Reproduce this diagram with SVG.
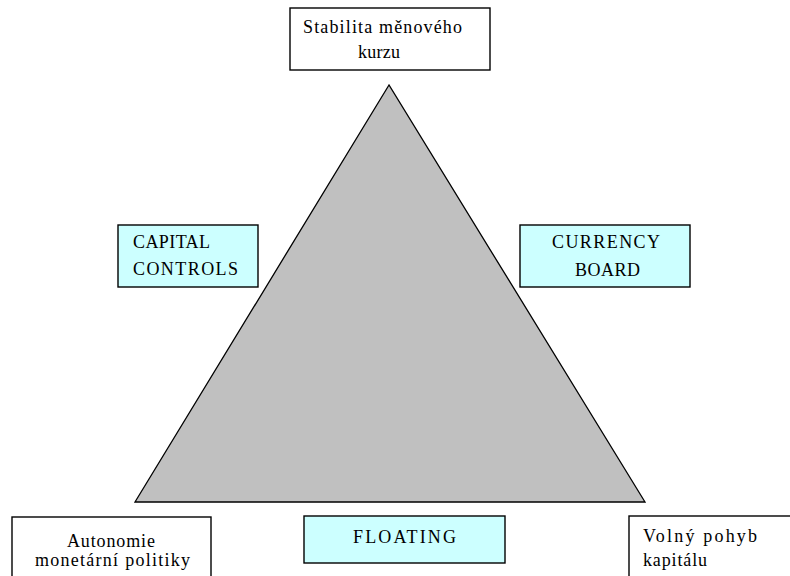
<svg xmlns="http://www.w3.org/2000/svg" width="790" height="576" viewBox="0 0 790 576">
<style>
.box{fill:#ffffff;stroke:#000000;stroke-width:1.4}
.cyan{fill:#ccffff;stroke:#000000;stroke-width:1.4}
.tri{fill:#c0c0c0;stroke:#000000;stroke-width:1.3;stroke-linejoin:miter}
.t{font-family:'Liberation Serif','Times New Roman',serif;font-size:18px;fill:#000000}
</style>
<rect width="790" height="576" fill="#ffffff"/>
<g id="triangle">
<polygon class="tri" points="389,85 135,502 645,502"/>
</g>
<g id="connectors"></g>
<g id="stabilita">
<rect class="box" x="290" y="8" width="200" height="62"/>
<text class="t" x="303" y="33" textLength="159" lengthAdjust="spacing">Stabilita měnového</text>
<text class="t" x="358" y="58" textLength="42" lengthAdjust="spacing">kurzu</text>
</g>
<g id="capital-controls">
<rect class="cyan" x="118" y="225" width="140" height="62"/>
<text class="t" x="133" y="248" textLength="77" lengthAdjust="spacing">CAPITAL</text>
<text class="t" x="133" y="275" textLength="105" lengthAdjust="spacing">CONTROLS</text>
</g>
<g id="currency-board">
<rect class="cyan" x="520" y="225" width="170" height="62"/>
<text class="t" x="552" y="248" textLength="108" lengthAdjust="spacing">CURRENCY</text>
<text class="t" x="575" y="276" textLength="65" lengthAdjust="spacing">BOARD</text>
</g>
<g id="autonomie">
<rect class="box" x="12" y="517" width="199" height="80"/>
<text class="t" x="67" y="547" textLength="88" lengthAdjust="spacing">Autonomie</text>
<text class="t" x="35" y="566" textLength="155" lengthAdjust="spacing">monetární politiky</text>
</g>
<g id="floating">
<rect class="cyan" x="304" y="516" width="201" height="47"/>
<text class="t" x="353" y="543" textLength="103" lengthAdjust="spacing">FLOATING</text>
</g>
<g id="volny-pohyb">
<rect class="box" x="629" y="516" width="200" height="80"/>
<text class="t" x="643" y="542" textLength="114" lengthAdjust="spacing">Volný pohyb</text>
<text class="t" x="643" y="566" textLength="64" lengthAdjust="spacing">kapitálu</text>
</g>
</svg>
